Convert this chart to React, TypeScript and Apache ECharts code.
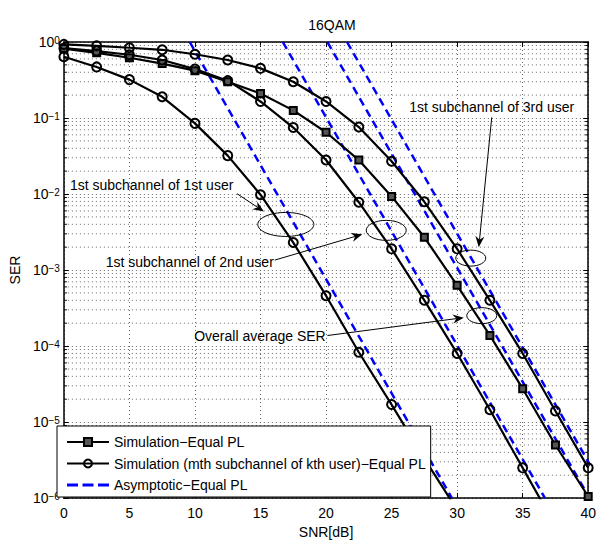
import React, { useEffect, useRef } from 'react';
import * as echarts from 'echarts';

const FONT = '"Liberation Sans", Arial, Helvetica, sans-serif';

// SNR grid of the simulation points (dB)
const snr = [0, 2.5, 5, 7.5, 10, 12.5, 15, 17.5, 20, 22.5, 25, 27.5, 30, 32.5, 35, 37.5, 40];

// Simulation, overall average SER (squares)
const serOverall = [0.82, 0.72, 0.62, 0.52, 0.42, 0.30, 0.21, 0.126, 0.065, 0.028, 0.0093, 0.0027, 6.3e-4, 1.38e-4, 2.75e-5, 5e-6, 1.05e-6];

// Simulation, 1st subchannel of 1st / 2nd / 3rd user (circles)
const serUser1 = [0.64, 0.47, 0.32, 0.19, 0.085, 0.032, 0.0098, 0.0023, 4.6e-4, 8.3e-5, 1.7e-5, 3.3e-6, 7e-7];
const serUser2 = [0.83, 0.76, 0.68, 0.58, 0.44, 0.31, 0.165, 0.075, 0.028, 0.0078, 0.0019, 4e-4, 8e-5, 1.45e-5, 2.5e-6, 4.3e-7];
const serUser3 = [0.93, 0.89, 0.84, 0.79, 0.69, 0.58, 0.45, 0.30, 0.165, 0.076, 0.027, 0.0079, 0.0019, 4e-4, 8e-5, 1.4e-5, 2.5e-6];

// Asymptotic lines: SNR where each reaches SER = 1 and SER = 1e-6
const asymSer = [1, 1e-6];
const asym1Snr = [9.6, 29.6];
const asym2Snr = [16.7, 36.7];
const asym3Snr = [20.1, 40.1];
const asym4Snr = [21.6, 41.6];

// axis ticks
const xTicks = { min: 0, max: 40, interval: 5 };
const yRange = { min: 1e-6, max: 1 };
const minorDecades = [-6, -5, -4, -3, -2, -1];
const minorMultipliers = [2, 3, 4, 5, 6, 7, 8, 9];

const NAME_SQ = 'Simulation\u2212Equal PL';
const NAME_CI = 'Simulation (mth subchannel of kth user)\u2212Equal PL';
const NAME_AS = 'Asymptotic\u2212Equal PL';

// annotations in data units: x in dB, y in log10(SER)
const annotations = [
  { text: '1st subchannel of 1st user', tx: 0.46, ty: -1.878, from: [13.21, -1.996], to: [15.26, -2.23], ell: [16.93, -2.40], rx: 28, ry: 12 },
  { text: '1st subchannel of 2nd user', tx: 3.19, ty: -2.896, from: [16.09, -2.869], to: [22.77, -2.53], ell: [24.59, -2.478], rx: 20, ry: 10 },
  { text: '1st subchannel of 3rd user', tx: 26.34, ty: -0.861, from: [32.64, -0.991], to: [31.65, -2.70], ell: [31.04, -2.843], rx: 15, ry: 8 },
  { text: 'Overall average SER', tx: 9.94, ty: -3.874, from: [20.11, -3.861], to: [30.51, -3.626], ell: [31.88, -3.60], rx: 15, ry: 8 },
];

const pair = (xs: number[], ys: number[]) => ys.map((y, i) => [xs[i], y]);

export default function App() {
  const ref = useRef<HTMLDivElement>(null);

  useEffect(() => {
    if (!ref.current) return;
    const chart = echarts.init(ref.current, null, { renderer: 'svg' });

    const minorVals: number[] = [];
    minorDecades.forEach((d) => minorMultipliers.forEach((m) => minorVals.push(m * Math.pow(10, d))));

    const circleSeries = (data: number[][]) => ({
      type: 'line',
      name: NAME_CI,
      data,
      xAxisIndex: 0,
      yAxisIndex: 0,
      symbol: 'circle',
      symbolSize: 9,
      showAllSymbol: true,
      lineStyle: { color: '#000', width: 2.2 },
      itemStyle: { color: 'rgba(255,255,255,0)', borderColor: '#000', borderWidth: 2 },
      emphasis: { disabled: true },
      z: 3,
    });

    const asymSeries = (xs: number[]) => ({
      type: 'line',
      name: NAME_AS,
      data: pair(xs, asymSer),
      xAxisIndex: 0,
      yAxisIndex: 0,
      symbol: 'none',
      lineStyle: { color: '#0000ff', width: 2.5, type: [8, 5] },
      itemStyle: { color: '#0000ff' },
      emphasis: { disabled: true },
      z: 2,
    });

    const axisLine = { show: true, onZero: false, lineStyle: { color: '#000', width: 1.5 } };
    const tickStyle = { show: true, inside: true, length: 5, lineStyle: { color: '#000', width: 1 } };
    const gridDot = { show: true, lineStyle: { color: '#666', width: 1, type: [1, 3] } };

    const option: any = {
      animation: false,
      backgroundColor: '#fff',
      textStyle: { fontFamily: FONT },
      title: {
        text: '16QAM',
        left: 327,
        top: 13,
        textAlign: 'center',
        textStyle: { fontSize: 14, fontWeight: 'normal', color: '#000', fontFamily: FONT },
      },
      grid: { left: 63, right: 9, top: 42, bottom: 42, containLabel: false },
      legend: {
        orient: 'vertical',
        left: 57,
        top: 426,
        data: [
          { name: NAME_SQ },
          { name: NAME_CI },
          {
            name: NAME_AS,
            icon: 'path://M0,0h11v3h-11z M15.5,0h11v3h-11z M31,0h11v3h-11z',
            itemStyle: { color: '#0000ff' },
          },
        ],
        itemWidth: 42,
        itemHeight: 10,
        itemGap: 7.5,
        padding: [9, 5, 5, 9],
        backgroundColor: '#fff',
        borderColor: '#000',
        borderWidth: 1,
        borderRadius: 0,
        selectedMode: false,
        textStyle: { fontSize: 14, color: '#000', fontFamily: FONT },
        z: 10,
      },
      xAxis: [
        {
          type: 'value',
          min: xTicks.min,
          max: xTicks.max,
          interval: xTicks.interval,
          name: 'SNR[dB]',
          nameLocation: 'middle',
          nameGap: 18,
          nameTextStyle: { fontSize: 14, color: '#000', fontFamily: FONT },
          axisLine,
          axisTick: tickStyle,
          axisLabel: { fontSize: 14, color: '#000', margin: 8, fontFamily: FONT },
          splitLine: gridDot,
        },
        {
          type: 'value',
          position: 'top',
          min: xTicks.min,
          max: xTicks.max,
          interval: xTicks.interval,
          axisLine,
          axisTick: tickStyle,
          axisLabel: { show: false },
          splitLine: { show: false },
        },
      ],
      yAxis: [
        {
          type: 'log',
          logBase: 10,
          min: yRange.min,
          max: yRange.max,
          splitNumber: 6,
          name: 'SER',
          nameLocation: 'middle',
          nameGap: 35,
          nameTextStyle: { fontSize: 14, color: '#000', fontFamily: FONT },
          axisLine,
          axisTick: tickStyle,
          axisLabel: {
            margin: 4,
            showMinLabel: true,
            showMaxLabel: true,
            formatter: (v: number) => {
              const e = Math.round(Math.log10(v));
              const es = e < 0 ? '\u2212' + -e : String(e);
              return '{b|10}{s|' + es + '}';
            },
            rich: {
              b: { fontSize: 14, lineHeight: 14, verticalAlign: 'bottom', color: '#000', fontFamily: FONT },
              s: { fontSize: 10, lineHeight: 10, padding: [0, 0, 10, 0], verticalAlign: 'top', color: '#000', fontFamily: FONT },
            },
          },
          splitLine: gridDot,
        },
        {
          type: 'log',
          logBase: 10,
          position: 'right',
          min: yRange.min,
          max: yRange.max,
          splitNumber: 6,
          axisLine,
          axisTick: tickStyle,
          axisLabel: { show: false },
          splitLine: { show: false },
        },
      ],
      series: [
        {
          type: 'custom',
          name: 'minor',
          xAxisIndex: 0,
          yAxisIndex: 0,
          silent: true,
          z: 1,
          clip: false,
          data: minorVals.map((v) => [0, v]),
          renderItem: (params: any, api: any) => {
            const cs = params.coordSys;
            const y = api.coord([0, api.value(1)])[1];
            return {
              type: 'group',
              children: [
                { type: 'line', shape: { x1: cs.x, y1: y, x2: cs.x + cs.width, y2: y }, style: { stroke: '#666', lineWidth: 1, lineDash: [1, 3] } },
                { type: 'line', shape: { x1: cs.x, y1: y, x2: cs.x + 3, y2: y }, style: { stroke: '#000', lineWidth: 1 } },
                { type: 'line', shape: { x1: cs.x + cs.width - 3, y1: y, x2: cs.x + cs.width, y2: y }, style: { stroke: '#000', lineWidth: 1 } },
              ],
            };
          },
        },
        asymSeries(asym1Snr),
        asymSeries(asym2Snr),
        asymSeries(asym3Snr),
        asymSeries(asym4Snr),
        {
          type: 'line',
          name: NAME_SQ,
          data: pair(snr, serOverall),
          xAxisIndex: 0,
          yAxisIndex: 0,
          symbol: 'rect',
          symbolSize: 7,
          showAllSymbol: true,
          lineStyle: { color: '#000', width: 2.2 },
          itemStyle: { color: '#555', borderColor: '#000', borderWidth: 2 },
          emphasis: { disabled: true },
          z: 3,
        },
        circleSeries(pair(snr, serUser1)),
        circleSeries(pair(snr, serUser2)),
        circleSeries(pair(snr, serUser3)),
      ],
    };

    chart.setOption(option);

    const toPx = (x: number, lg: number): number[] =>
      chart.convertToPixel({ gridIndex: 0 }, [x, Math.pow(10, lg)]) as number[];

    const elements: any[] = [];
    annotations.forEach((a) => {
      const tp = toPx(a.tx, a.ty);
      elements.push({
        type: 'text',
        x: tp[0],
        y: tp[1],
        z: 20,
        style: { text: a.text, fontSize: 14, fontFamily: FONT, fill: '#000', align: 'left', verticalAlign: 'middle' },
      });
      const s = toPx(a.from[0], a.from[1]);
      const t = toPx(a.to[0], a.to[1]);
      const dx = t[0] - s[0];
      const dy = t[1] - s[1];
      const len = Math.sqrt(dx * dx + dy * dy) || 1;
      const ux = dx / len;
      const uy = dy / len;
      const nx = -uy;
      const ny = ux;
      const L = 11;
      const W = 4.5;
      const notch = 3.5;
      const bx = t[0] - L * ux;
      const by = t[1] - L * uy;
      const ix = t[0] - (L - notch) * ux;
      const iy = t[1] - (L - notch) * uy;
      elements.push({
        type: 'line',
        z: 20,
        shape: { x1: s[0], y1: s[1], x2: ix, y2: iy },
        style: { stroke: '#000', lineWidth: 1 },
      });
      elements.push({
        type: 'polygon',
        z: 20,
        shape: { points: [[t[0], t[1]], [bx + W * nx, by + W * ny], [ix, iy], [bx - W * nx, by - W * ny]] },
        style: { fill: '#000' },
      });
      const e = toPx(a.ell[0], a.ell[1]);
      elements.push({
        type: 'ellipse',
        z: 20,
        shape: { cx: e[0], cy: e[1], rx: a.rx, ry: a.ry },
        style: { fill: 'none', stroke: '#000', lineWidth: 1 },
      });
    });
    chart.setOption({ graphic: elements });

    return () => chart.dispose();
  }, []);

  return <div ref={ref} style={{ position: 'fixed', left: 0, top: 0, width: 599, height: 544 }} />;
}
